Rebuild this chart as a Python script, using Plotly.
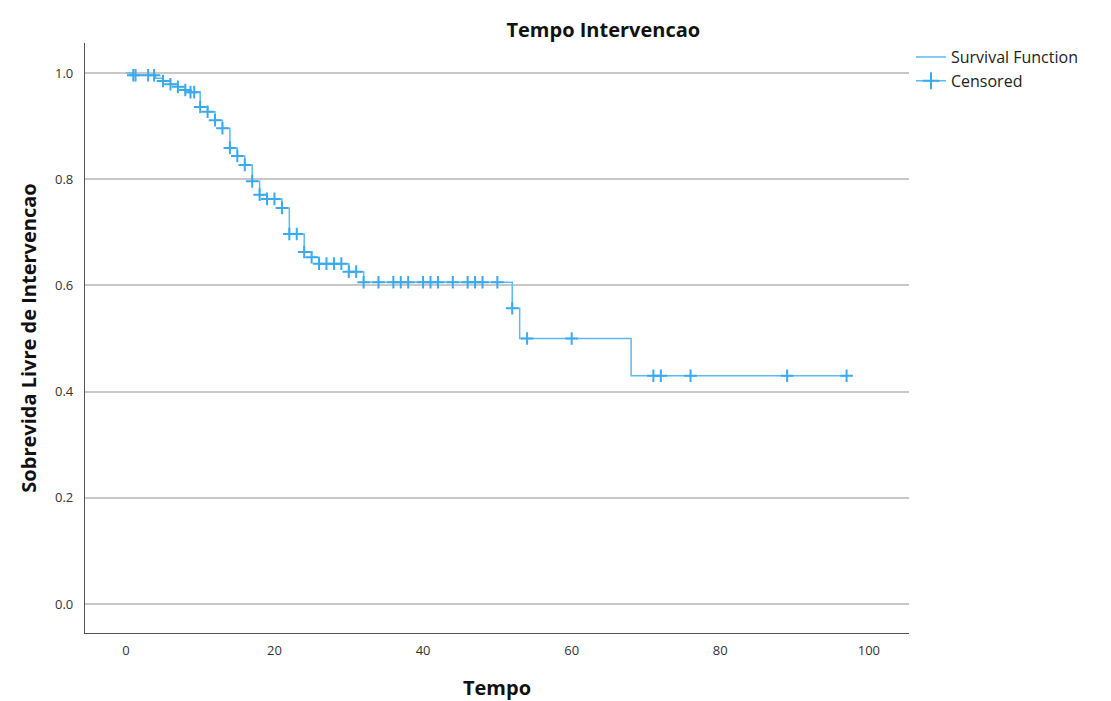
import plotly.graph_objects as go

# Kaplan-Meier step data (time of event, survival after step)
step_times = [0, 1, 4, 5, 6, 7, 8, 8.7, 10, 11, 12, 13, 14, 15, 16, 17, 18, 19, 21, 22, 24, 25, 26, 30, 32, 52, 53, 68]
step_surv = [1.0, 0.996, 0.990, 0.985, 0.979, 0.974, 0.968, 0.964, 0.936, 0.927, 0.911, 0.896, 0.859, 0.844, 0.827,
             0.796, 0.771, 0.763, 0.746, 0.697, 0.663, 0.653, 0.641, 0.626, 0.606, 0.557, 0.500, 0.430]
end_time = 97

# Censored observation times
censor_times = [1, 1.3, 3, 3.8, 5, 6, 7, 8, 8.7, 9.2, 10, 11, 12, 13, 14, 15, 16, 17, 18, 19, 20, 21, 22, 23,
                24, 25, 26, 27, 28, 29, 30, 31, 32, 34, 36, 37, 38, 40, 41, 42, 44, 46, 47, 48, 50, 52,
                54, 60, 71, 72, 76, 89, 97]


def surv_at(t):
    s = step_surv[0]
    for tt, ss in zip(step_times, step_surv):
        if tt <= t:
            s = ss
    return s


censor_surv = [surv_at(t) for t in censor_times]

line_x = step_times + [end_time]
line_y = step_surv + [step_surv[-1]]

fig = go.Figure()
fig.add_trace(go.Scatter(
    x=line_x, y=line_y, mode="lines", line_shape="hv",
    line=dict(color="#5BBAF3", width=1.5), name="Survival Function"))
fig.add_trace(go.Scatter(
    x=censor_times, y=censor_surv, mode="markers",
    marker=dict(symbol="cross-thin", size=9, line=dict(color="#3AAAF0", width=2)),
    name="Censored", showlegend=False))
# legend entry for censored marks (line with cross, as in SPSS)
fig.add_trace(go.Scatter(
    x=[None], y=[None], mode="lines+markers",
    line=dict(color="#5BBAF3", width=1.5),
    marker=dict(symbol="cross-thin", size=12, line=dict(color="#3AAAF0", width=2)),
    name="Censored"))

font_family = "Open Sans, DejaVu Sans, sans-serif"
fig.update_layout(
    width=1103, height=693,
    margin=dict(l=77, r=202, t=35, b=68),
    plot_bgcolor="white", paper_bgcolor="white",
    font=dict(family=font_family, color="#222"),
    title=dict(text="<b>Tempo Intervencao</b>", x=0.629, xref="paper", xanchor="center",
               y=0.979, yref="container", yanchor="top", font=dict(size=20, color="#111"),
               automargin=False),
    xaxis=dict(range=[-5.5, 105.4], tickvals=[0, 20, 40, 60, 80, 100], showgrid=False, zeroline=False,
               showline=True, linecolor="#555", linewidth=1.2, ticks="outside", ticklen=5,
               tickcolor="rgba(0,0,0,0)", automargin=False,
               tickfont=dict(size=13, color="#333"),
               title=dict(text="<b>Tempo</b>", font=dict(size=20, color="#111"), standoff=26)),
    yaxis=dict(range=[-0.0546, 1.0566], tickvals=[0, 0.2, 0.4, 0.6, 0.8, 1.0], tickformat=".1f",
               showgrid=True, gridcolor="#C8C8C8", gridwidth=1.5, zeroline=False, automargin=False,
               showline=True, linecolor="#555", linewidth=1.2, ticks="outside", ticklen=8,
               tickcolor="rgba(0,0,0,0)", tickfont=dict(size=13, color="#333"),
               title=dict(text="<b>Sobrevida Livre de Intervencao</b>", font=dict(size=20, color="#111"),
                          standoff=13)),
    legend=dict(x=1.0024, y=1.005, xanchor="left", yanchor="top", font=dict(size=16, color="#222"),
                bgcolor="rgba(0,0,0,0)", tracegroupgap=0, itemwidth=30),
)

fig.write_html("out.html")
